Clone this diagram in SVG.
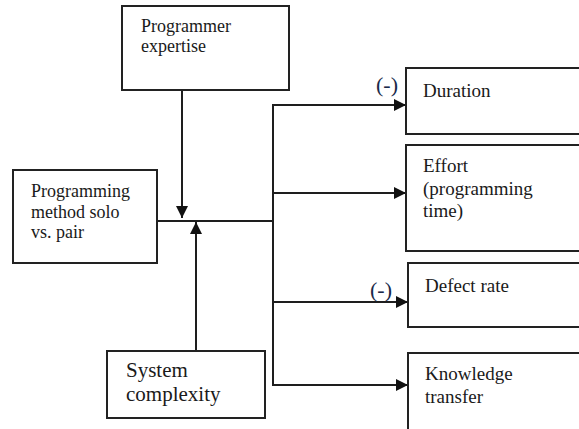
<svg xmlns="http://www.w3.org/2000/svg" width="579" height="429" viewBox="0 0 579 429">
  <style>
    .box { fill: #ffffff; stroke: #222222; stroke-width: 2; }
    .wire { fill: none; stroke: #1e1e1e; stroke-width: 2; }
    .lbl { font-family: "Liberation Serif", "Times New Roman", serif; font-size: 18px; fill: #1a1a1a; }
    .lbl-r { font-family: "Liberation Serif", "Times New Roman", serif; font-size: 19px; fill: #1a1a1a; }
    .lbl-l { font-family: "Liberation Serif", "Times New Roman", serif; font-size: 21px; fill: #1a1a1a; }
    .sign { font-family: "Liberation Serif", "Times New Roman", serif; font-size: 22px; fill: #1a2a4a; }
  </style>
  <defs>
    <marker id="head" viewBox="0 0 10 10" refX="10" refY="5" markerWidth="6" markerHeight="6" markerUnits="strokeWidth" orient="auto">
      <path d="M0,0 L10,5 L0,10 z" fill="#111111"/>
    </marker>
  </defs>

  <rect width="579" height="429" fill="#ffffff"/>

  <g id="connectors">
    <!-- moderators into the main path -->
    <line class="wire" x1="182" y1="90" x2="182" y2="218" marker-end="url(#head)"/>
    <line class="wire" x1="196" y1="351" x2="196" y2="222" marker-end="url(#head)"/>
    <!-- main path to the bus -->
    <line class="wire" x1="157" y1="221" x2="273" y2="221"/>
    <line class="wire" x1="273" y1="105" x2="273" y2="385"/>
    <!-- bus to outcomes -->
    <line class="wire" x1="272" y1="105" x2="406" y2="105" marker-end="url(#head)"/>
    <line class="wire" x1="273" y1="193" x2="406" y2="193" marker-end="url(#head)"/>
    <line class="wire" x1="273" y1="302" x2="408" y2="302" marker-end="url(#head)"/>
    <line class="wire" x1="272" y1="385" x2="408" y2="385" marker-end="url(#head)"/>
  </g>

  <g id="programmer-expertise">
    <rect class="box" x="122" y="6" width="167" height="84"/>
    <text class="lbl" x="141" y="32">Programmer</text>
    <text class="lbl" x="141" y="52">expertise</text>
  </g>

  <g id="programming-method">
    <rect class="box" x="13" y="170" width="144" height="93"/>
    <text class="lbl" x="31" y="197">Programming</text>
    <text class="lbl" x="31" y="218">method solo</text>
    <text class="lbl" x="31" y="238">vs. pair</text>
  </g>

  <g id="system-complexity">
    <rect class="box" x="107" y="351" width="158" height="67"/>
    <text class="lbl-l" x="126" y="377">System</text>
    <text class="lbl-l" x="126" y="401">complexity</text>
  </g>

  <g id="duration">
    <rect class="box" x="406" y="68" width="190" height="66"/>
    <text class="lbl-r" x="423" y="97">Duration</text>
    <text class="sign" x="376" y="92">(-)</text>
  </g>

  <g id="effort">
    <rect class="box" x="406" y="145" width="190" height="106"/>
    <text class="lbl-r" x="423" y="172">Effort</text>
    <text class="lbl-r" x="423" y="195">(programming</text>
    <text class="lbl-r" x="423" y="217">time)</text>
  </g>

  <g id="defect-rate">
    <rect class="box" x="408" y="263" width="190" height="64"/>
    <text class="lbl-r" x="425" y="292">Defect rate</text>
    <text class="sign" x="370" y="297">(-)</text>
  </g>

  <g id="knowledge-transfer">
    <rect class="box" x="408" y="353" width="190" height="90"/>
    <text class="lbl-r" x="425" y="380">Knowledge</text>
    <text class="lbl-r" x="425" y="403">transfer</text>
  </g>
</svg>
